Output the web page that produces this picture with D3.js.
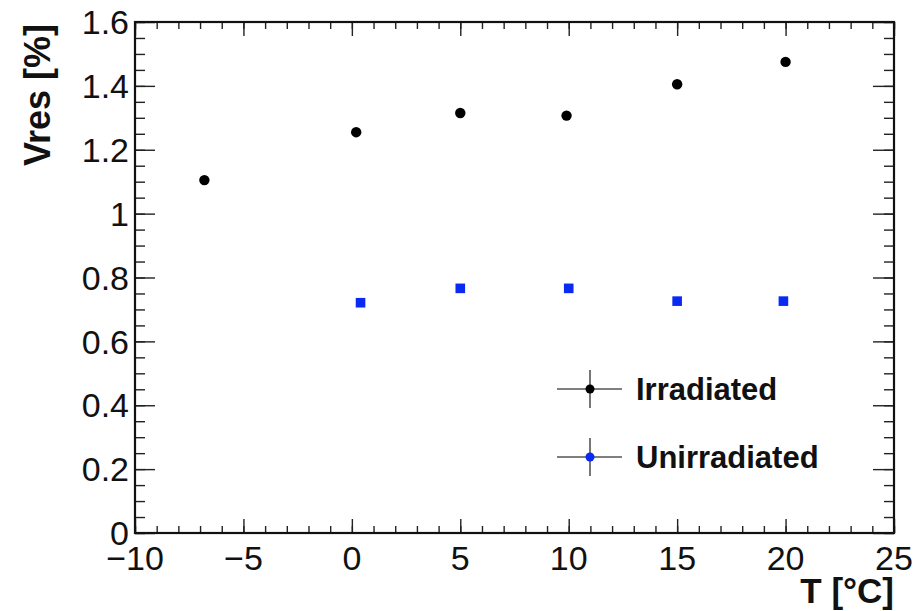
<!DOCTYPE html>
<html>
<head>
<meta charset="utf-8">
<script src="https://cdn.jsdelivr.net/npm/d3@7"></script>
<style>
  html, body { margin: 0; padding: 0; background: #fff; }
  svg { display: block; }
  text { font-family: "Liberation Sans", Arial, Helvetica, sans-serif; fill: #111; }
</style>
</head>
<body>
<svg id="chart" width="924" height="611"></svg>
<script>
// ---- data ----
const irradiatedT = [-6.8, 0.2, 5, 9.9, 15, 20];
const irradiatedV = [1.105, 1.255, 1.315, 1.307, 1.405, 1.475];
const unirradiatedT = [0.4, 5, 10, 15, 19.9];
const unirradiatedV = [0.721, 0.766, 0.766, 0.726, 0.726];
const xTicks = [-10, -5, 0, 5, 10, 15, 20, 25];
const xTickLabels = ["\u221210", "\u22125", "0", "5", "10", "15", "20", "25"];
const yTicks = [0, 0.2, 0.4, 0.6, 0.8, 1, 1.2, 1.4, 1.6];
const yTickLabels = ["0", "0.2", "0.4", "0.6", "0.8", "1", "1.2", "1.4", "1.6"];
const legendLabels = ["Irradiated", "Unirradiated"];
const xTitle = "T [\u00B0C]";
const yTitle = "Vres [%]";

const svg = d3.select("#chart");
const L = 135, R = 894, T = 22, B = 533;
const x = d3.scaleLinear().domain([-10, 25]).range([L, R]);
const y = d3.scaleLinear().domain([0, 1.6]).range([B, T]);

const xMinor = d3.range(-10, 25.001, 1);
const yMinor = d3.range(0, 1.6001, 0.05);

function style(g) {
  g.select(".domain").remove();
  g.selectAll("line").attr("stroke", "#222").attr("stroke-width", 1.4);
}
// minor ticks (ROOT style: ticks inside)
svg.append("g").attr("transform", `translate(0,${B})`)
  .call(d3.axisBottom(x).tickValues(xMinor).tickSize(-7).tickFormat("")).call(style);
svg.append("g").attr("transform", `translate(0,${T})`)
  .call(d3.axisTop(x).tickValues(xMinor).tickSize(-7).tickFormat("")).call(style);
svg.append("g").attr("transform", `translate(${L},0)`)
  .call(d3.axisLeft(y).tickValues(yMinor).tickSize(-10).tickFormat("")).call(style);
svg.append("g").attr("transform", `translate(${R},0)`)
  .call(d3.axisRight(y).tickValues(yMinor).tickSize(-10).tickFormat("")).call(style);

// major ticks
svg.append("g").attr("transform", `translate(0,${B})`)
  .call(d3.axisBottom(x).tickValues(xTicks).tickSize(-14).tickFormat("")).call(style);
svg.append("g").attr("transform", `translate(0,${T})`)
  .call(d3.axisTop(x).tickValues(xTicks).tickSize(-14).tickFormat("")).call(style);
svg.append("g").attr("transform", `translate(${L},0)`)
  .call(d3.axisLeft(y).tickValues(yTicks).tickSize(-20).tickFormat("")).call(style);
svg.append("g").attr("transform", `translate(${R},0)`)
  .call(d3.axisRight(y).tickValues(yTicks).tickSize(-21).tickFormat("")).call(style);

// frame
svg.append("rect").attr("x", L).attr("y", T).attr("width", R - L).attr("height", B - T)
  .attr("fill", "none").attr("stroke", "#111").attr("stroke-width", 2.2);

// tick labels
svg.append("g").selectAll("text").data(xTicks).join("text")
  .attr("x", d => x(d)).attr("y", 570)
  .attr("text-anchor", "middle").attr("font-size", 34)
  .text((d, i) => xTickLabels[i]);
svg.append("g").selectAll("text").data(yTicks).join("text")
  .attr("x", 129).attr("y", d => y(d)).attr("dy", "0.36em")
  .attr("text-anchor", "end").attr("font-size", 34)
  .text((d, i) => yTickLabels[i]);

// titles
svg.append("text").attr("x", R).attr("y", 603).attr("text-anchor", "end")
  .attr("font-size", 35).attr("font-weight", "bold").text(xTitle);
svg.append("text").attr("transform", "translate(50,24) rotate(-90)")
  .attr("text-anchor", "end").attr("font-size", 36).attr("font-weight", "bold").text(yTitle);

// data
const irr = irradiatedT.map((t, i) => ({ t, v: irradiatedV[i] }));
const unirr = unirradiatedT.map((t, i) => ({ t, v: unirradiatedV[i] }));
svg.append("g").selectAll("circle").data(irr).join("circle")
  .attr("cx", d => x(d.t)).attr("cy", d => y(d.v)).attr("r", 5.2).attr("fill", "#000");
svg.append("g").selectAll("rect").data(unirr).join("rect")
  .attr("x", d => x(d.t) - 4.8).attr("y", d => y(d.v) - 4.8)
  .attr("width", 9.6).attr("height", 9.6).attr("fill", "#0a2af2");

// legend
const leg = [
  { label: legendLabels[0], cy: 389, color: "#000" },
  { label: legendLabels[1], cy: 457, color: "#0a2af2" }
];
const lg = svg.append("g");
leg.forEach(d => {
  lg.append("line").attr("x1", 557).attr("x2", 622).attr("y1", d.cy).attr("y2", d.cy)
    .attr("stroke", "#555").attr("stroke-width", 1.6);
  lg.append("line").attr("x1", 590).attr("x2", 590).attr("y1", d.cy - 19).attr("y2", d.cy + 19)
    .attr("stroke", "#555").attr("stroke-width", 1.6);
  lg.append("circle").attr("cx", 590).attr("cy", d.cy).attr("r", 4.5).attr("fill", d.color);
  lg.append("text").attr("x", 636).attr("y", d.cy).attr("dy", "0.36em")
    .attr("font-size", 31).attr("font-weight", "bold").text(d.label);
});
</script>
</body>
</html>
